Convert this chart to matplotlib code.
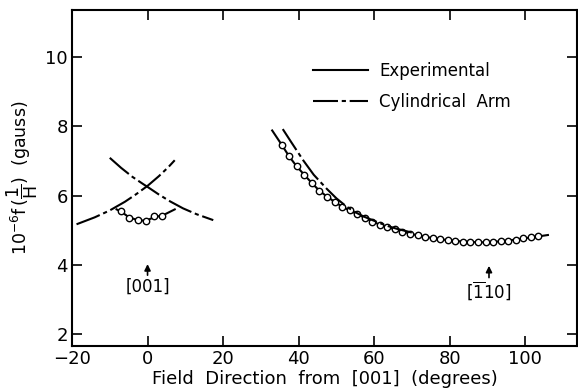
import numpy as np
import matplotlib
matplotlib.use('Agg')
import matplotlib.pyplot as plt

# Experimental, near [001]
exp_left_x = [-8.2, -6.9, -4.9, -2.6, -0.4, 1.8, 3.9, 7.2]
exp_left_y = [5.60, 5.53, 5.37, 5.29, 5.27, 5.38, 5.42, 5.60]
pts_left_x = [-6.9, -4.9, -2.6, -0.4, 1.8, 3.9]
pts_left_y = [5.54, 5.36, 5.28, 5.27, 5.41, 5.42]

# Experimental, near [1-10]
exp_right_x = [33, 35.5, 37.5, 39.5, 41.5, 43.5, 45.5, 47.5, 49.5, 51.5, 53.5, 55.5,
               57.5, 59.5, 61.5, 63.5, 65.5, 67.5, 69.5, 71.5, 73.5, 75.5, 77.5,
               79.5, 81.5, 83.5, 85.5, 87.5, 89.5, 91.5, 93.5, 95.5, 97.5, 99.5,
               101.5, 103.5, 106]
exp_right_y = [7.88, 7.47, 7.13, 6.84, 6.60, 6.36, 6.14, 5.97, 5.82, 5.68, 5.57, 5.46,
               5.36, 5.25, 5.16, 5.09, 5.02, 4.96, 4.90, 4.85, 4.81, 4.77, 4.74,
               4.71, 4.69, 4.67, 4.66, 4.65, 4.65, 4.66, 4.68, 4.70, 4.73, 4.76,
               4.79, 4.82, 4.86]

# Cylindrical arm model
cyl_a_x = [-18.8, -14, -10, -6, -3, 0, 3, 5.5, 7.2]
cyl_a_y = [5.17, 5.37, 5.57, 5.82, 6.04, 6.28, 6.56, 6.82, 7.02]
cyl_b_x = [-10, -7, -4, -1, 0, 3, 6, 9.4, 13, 17.4]
cyl_b_y = [7.09, 6.80, 6.54, 6.32, 6.25, 6.03, 5.83, 5.63, 5.46, 5.29]
cyl_r_x = [35.8, 38, 41.2, 44, 47.4, 50, 52.7, 55, 57.1, 60, 63, 66, 70]
cyl_r_y = [7.92, 7.55, 7.02, 6.60, 6.20, 5.92, 5.68, 5.52, 5.40, 5.27, 5.14, 5.04, 4.93]

xticks = [-20, 0, 20, 40, 60, 80, 100]
yticks = [2, 4, 6, 8, 10]

fig = plt.figure(figsize=(5.78, 3.89), dpi=100)
ax = fig.add_axes([72 / 578, 1 - 346 / 389, 505 / 578, 336 / 389])

lw = 1.5
dash = (0, (12, 1.8, 2, 1.8))

ax.plot(exp_left_x, exp_left_y, color='black', lw=lw, label='Experimental')
ax.plot(exp_right_x, exp_right_y, color='black', lw=lw)
ax.plot(pts_left_x, pts_left_y, 'o', ms=4.6, mfc='white', mec='black', mew=1)
ax.plot(exp_right_x[1:-1], exp_right_y[1:-1], 'o', ms=4.6, mfc='white', mec='black', mew=1)

ax.plot(cyl_a_x, cyl_a_y, color='black', lw=lw, linestyle=dash, label='Cylindrical  Arm')
ax.plot(cyl_b_x, cyl_b_y, color='black', lw=lw, linestyle=dash)
ax.plot(cyl_r_x, cyl_r_y, color='black', lw=lw, linestyle=dash)

# direction markers
ax.annotate('', xy=(0, 4.1), xytext=(0, 3.62),
            arrowprops=dict(arrowstyle='-|>', color='black', lw=1.2, mutation_scale=9))
ax.text(0, 3.38, '[001]', ha='center', va='center', fontsize=12)
ax.annotate('', xy=(90.4, 4.05), xytext=(90.4, 3.55),
            arrowprops=dict(arrowstyle='-|>', color='black', lw=1.2, mutation_scale=9))
ax.text(90.4, 3.25, r'[$\mathregular{\overline{1}}$10]', ha='center', va='center', fontsize=12)

ax.set_xlim(-20, 113.7)
ax.set_ylim(1.654, 11.36)
ax.set_xticks(xticks)
ax.set_yticks(yticks)
ax.tick_params(direction='in', length=7, width=1.2, top=True, right=True,
               labelsize=13, pad=3)
for s in ax.spines.values():
    s.set_linewidth(1.5)

ax.set_xlabel('Field  Direction  from  [001]  (degrees)', fontsize=13, labelpad=1)
ax.set_ylabel(r'$\mathregular{10^{-6}f\,(\dfrac{1}{H})}$  (gauss)', fontsize=12.5, labelpad=4)

ax.legend(loc='upper left', bbox_to_anchor=(0.46, 0.87), frameon=False, fontsize=12,
          handlelength=3.3, handletextpad=0.7, labelspacing=0.75, borderpad=0)

fig.savefig('out.png', dpi=100)
